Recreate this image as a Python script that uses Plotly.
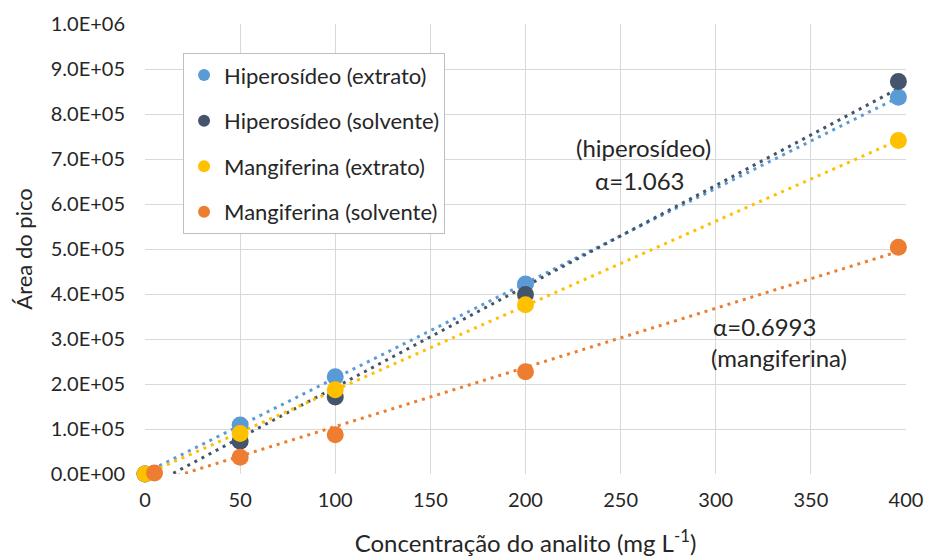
import numpy as np
import plotly.graph_objects as go

# Concentration (mg L-1) and peak areas for each series
conc_hip = [0, 50, 100, 200, 396]
conc_man_ext = [0, 50, 100, 200, 396]
conc_man_sol = [5, 50, 100, 200, 396]

hip_extrato = [0, 1.09e5, 2.16e5, 4.22e5, 8.37e5]
hip_solvente = [0, 0.73e5, 1.71e5, 3.99e5, 8.72e5]
man_extrato = [0, 0.90e5, 1.87e5, 3.76e5, 7.41e5]
man_solvente = [2.0e3, 0.37e5, 0.87e5, 2.27e5, 5.04e5]

names = ["Hiperosídeo (extrato)", "Hiperosídeo (solvente)",
         "Mangiferina (extrato)", "Mangiferina (solvente)"]
colors = ["#5B9BD5", "#44546A", "#FFC000", "#ED7D31"]

y_tickvals = [i * 1e5 for i in range(11)]
y_ticktext = ["0.0E+00", "1.0E+05", "2.0E+05", "3.0E+05", "4.0E+05", "5.0E+05",
              "6.0E+05", "7.0E+05", "8.0E+05", "9.0E+05", "1.0E+06"]
x_tickvals = [0, 50, 100, 150, 200, 250, 300, 350, 400]

# Text labels placed in data coordinates
labels = [
    ("(hiperosídeo)", 262, 7.26e5),
    ("α=1.063", 260, 6.52e5),
    ("α=0.6993", 325.5, 3.27e5),
    ("(mangiferina)", 333, 2.58e5),
]

series = [
    (conc_hip, hip_extrato),
    (conc_hip, hip_solvente),
    (conc_man_ext, man_extrato),
    (conc_man_sol, man_solvente),
]

FONT = "Lato, Carlito, 'Open Sans', sans-serif"
TXT = "#262626"
fig = go.Figure()

# Linear trendlines (least squares), drawn over the data range
for (x, y), c, n in zip(series, colors, names):
    m, b = np.polyfit(x, y, 1)
    xs = np.array([min(x), max(x)])
    fig.add_trace(go.Scatter(
        x=xs, y=m * xs + b, mode="lines", showlegend=False, hoverinfo="skip",
        line=dict(color=c, width=3, dash="3px,5px"), legendgroup=n))

# Data points
for (x, y), c, n in zip(series, colors, names):
    fig.add_trace(go.Scatter(
        x=x, y=y, mode="markers", name=n, legendgroup=n,
        marker=dict(color=c, size=17), cliponaxis=False))

for text, lx, ly in labels:
    fig.add_annotation(x=lx, y=ly, text=text, showarrow=False, xref="x", yref="y",
                       font=dict(size=24, color=TXT, family=FONT))

axis_common = dict(showgrid=True, gridcolor="#d9d9d9", gridwidth=1, zeroline=False,
                   showline=False, automargin=False,
                   tickfont=dict(size=20, color=TXT, family=FONT))

fig.update_xaxes(range=[0, 400], tickvals=x_tickvals, ticks="outside", ticklen=8,
                 tickcolor="rgba(0,0,0,0)",
                 title=dict(text="Concentração do analito (mg L<sup>-1</sup>)",
                            font=dict(size=24, color=TXT, family=FONT), standoff=27),
                 **axis_common)
fig.update_yaxes(range=[0, 1e6], tickvals=y_tickvals, ticktext=y_ticktext,
                 ticks="outside", ticklen=15, tickcolor="rgba(0,0,0,0)",
                 title=dict(text="Área do pico",
                            font=dict(size=22, color=TXT, family=FONT), standoff=12),
                 **axis_common)

fig.update_layout(
    width=934, height=557,
    margin=dict(l=145, r=28, t=24, b=83),
    paper_bgcolor="white", plot_bgcolor="white",
    font=dict(family=FONT, color=TXT),
    legend=dict(x=0.05, y=0.935, xanchor="left", yanchor="top",
                bgcolor="white", bordercolor="#bfbfbf", borderwidth=1,
                font=dict(size=22, color=TXT, family=FONT),
                tracegroupgap=14, itemsizing="constant"),
)

fig.write_html("out.html")
